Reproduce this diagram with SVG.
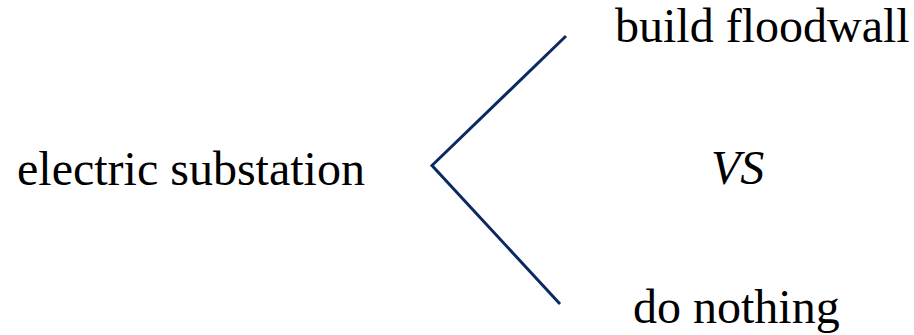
<svg xmlns="http://www.w3.org/2000/svg" width="914" height="335" viewBox="0 0 914 335">
<style>
.t{font-family:'Liberation Serif','Times New Roman',Times,serif;font-size:48px;fill:#000}
.conn{fill:none;stroke:#0b2a63;stroke-width:3}
</style>
<rect width="914" height="335" fill="#fff"/>
<g id="source"><text class="t" x="17" y="185">electric substation</text></g>
<g id="opt1"><text class="t" x="615" y="42">build floodwall</text></g>
<g id="vs"><text class="t" x="711" y="184" font-style="italic">VS</text></g>
<g id="opt2"><text class="t" x="633" y="323">do nothing</text></g>
<g id="connectors">
<polyline class="conn" points="566,36 432,165.5 560,304"/>
</g>
</svg>
